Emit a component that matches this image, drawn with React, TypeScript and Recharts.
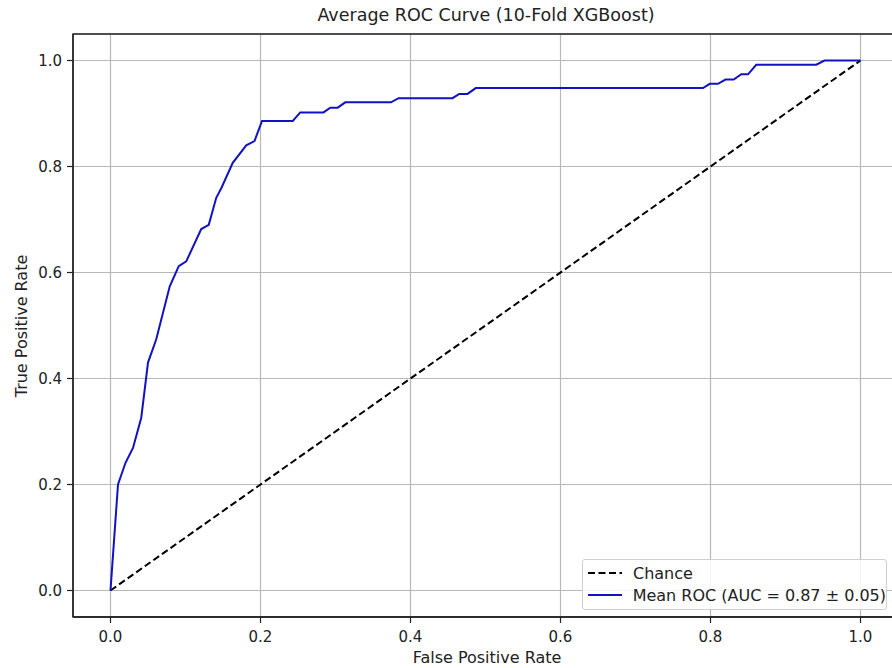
import React from 'react';
import { LineChart, Line, XAxis, YAxis, CartesianGrid, ReferenceArea, Legend } from 'recharts';

const TITLE = 'Average ROC Curve (10-Fold XGBoost)';
const X_LABEL = 'False Positive Rate';
const Y_LABEL = 'True Positive Rate';
const CHANCE_NAME = 'Chance';
const ROC_NAME = 'Mean ROC (AUC = 0.87 ± 0.05)';

const TICKS = [0, 0.2, 0.4, 0.6, 0.8, 1.0];

const chanceFpr = [0, 1];
const chanceTpr = [0, 1];

const rocFpr = [
  0, 0.01, 0.02, 0.03, 0.041, 0.05, 0.061, 0.079, 0.091, 0.101, 0.121, 0.131,
  0.141, 0.148, 0.163, 0.181, 0.192, 0.202, 0.243, 0.253, 0.284, 0.293, 0.303,
  0.313, 0.374, 0.384, 0.456, 0.465, 0.476, 0.487, 0.79, 0.799, 0.81, 0.82,
  0.831, 0.841, 0.85, 0.861, 0.941, 0.952, 1.0,
];
const rocTpr = [
  0, 0.2, 0.241, 0.269, 0.326, 0.43, 0.474, 0.574, 0.612, 0.621, 0.682, 0.69,
  0.741, 0.76, 0.807, 0.84, 0.848, 0.886, 0.886, 0.902, 0.902, 0.911, 0.911,
  0.921, 0.921, 0.929, 0.929, 0.937, 0.937, 0.948, 0.948, 0.956, 0.956, 0.964,
  0.964, 0.974, 0.974, 0.992, 0.992, 1.0, 1.0,
];

const chanceData = chanceFpr.map((x, i) => ({ x, y: chanceTpr[i] }));
const rocData = rocFpr.map((x, i) => ({ x, y: rocTpr[i] }));

const FONT = '"DejaVu Sans", sans-serif';
const INK = '#222';
const BLUE = '#1212c0';

const LegendBox = (props: any) => {
  const items = props.payload || [];
  return (
    <div
      style={{
        width: 305,
        boxSizing: 'border-box',
        border: '1px solid #d0d0d0',
        borderRadius: 3,
        background: 'rgba(255,255,255,0.85)',
        padding: '2px 0 3px 5px',
        fontFamily: FONT,
        fontSize: 16,
        color: INK,
      }}
    >
      {items.map((it: any) => (
        <div key={it.value} style={{ display: 'flex', alignItems: 'center', height: 22 }}>
          <svg width={35} height={10} style={{ marginRight: 10 }}>
            <line
              x1={0}
              y1={5}
              x2={34}
              y2={5}
              stroke={it.color}
              strokeWidth={2}
              strokeDasharray={it.payload && it.payload.strokeDasharray ? '7 3.5' : undefined}
            />
          </svg>
          <span style={{ whiteSpace: 'nowrap' }}>{it.value}</span>
        </div>
      ))}
    </div>
  );
};

export default function App() {
  return (
    <div style={{ position: 'absolute', left: 0, top: 0, width: 892, height: 668, overflow: 'hidden', background: '#fff' }}>
      <LineChart width={900} height={668} margin={{ top: 34, right: 2, bottom: 0, left: 0 }}>
        <CartesianGrid stroke="#b8b8b8" strokeWidth={1.2} />
        <XAxis
          type="number"
          dataKey="x"
          domain={[-0.05, 1.05]}
          ticks={TICKS}
          allowDataOverflow
          height={51}
          tickSize={6}
          tickMargin={8}
          tickFormatter={(v: number) => v.toFixed(1)}
          tick={{ fill: INK, fontSize: 15, fontFamily: FONT }}
          axisLine={{ stroke: INK, strokeWidth: 1.3 }}
          tickLine={{ stroke: INK, strokeWidth: 1.2 }}
        />
        <YAxis
          type="number"
          dataKey="y"
          domain={[-0.05, 1.05]}
          ticks={TICKS}
          allowDataOverflow
          width={73}
          tickSize={6}
          tickMargin={5}
          tickFormatter={(v: number) => v.toFixed(1)}
          tick={{ fill: INK, fontSize: 15, fontFamily: FONT }}
          axisLine={{ stroke: INK, strokeWidth: 1.3 }}
          tickLine={{ stroke: INK, strokeWidth: 1.2 }}
        />
        <ReferenceArea x1={-0.05} x2={1.05} y1={-0.05} y2={1.05} fill="none" stroke={INK} strokeWidth={1.3} ifOverflow="visible" />
        <Line
          data={chanceData}
          dataKey="y"
          name={CHANCE_NAME}
          type="linear"
          stroke="#000"
          strokeWidth={2}
          strokeDasharray="7 3.5"
          dot={false}
          isAnimationActive={false}
        />
        <Line
          data={rocData}
          dataKey="y"
          name={ROC_NAME}
          type="linear"
          stroke={BLUE}
          strokeWidth={2}
          dot={false}
          isAnimationActive={false}
        />
        <Legend
          layout="vertical"
          align="center"
          verticalAlign="middle"
          content={LegendBox}
          wrapperStyle={{ left: 582, top: 559, width: 306 }}
        />
      </LineChart>
      <svg width={892} height={668} style={{ position: 'absolute', left: 0, top: 0, pointerEvents: 'none' }}>
        <text x={486} y={21} textAnchor="middle" fontFamily={FONT} fontSize={17.5} fill={INK}>
          {TITLE}
        </text>
        <text x={487} y={663} textAnchor="middle" fontFamily={FONT} fontSize={16} fill={INK}>
          {X_LABEL}
        </text>
        <text
          x={0}
          y={0}
          transform="translate(27,326) rotate(-90)"
          textAnchor="middle"
          fontFamily={FONT}
          fontSize={16}
          fill={INK}
        >
          {Y_LABEL}
        </text>
      </svg>
    </div>
  );
}
